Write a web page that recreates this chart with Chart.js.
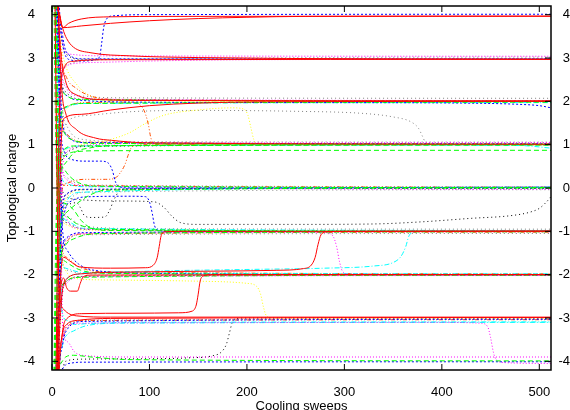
<!DOCTYPE html>
<html>
<head>
<meta charset="utf-8">
<script src="https://cdn.jsdelivr.net/npm/chart.js@4.4.0/dist/chart.umd.min.js"></script>
<style>
  html, body { margin: 0; padding: 0; background: #fff; }
</style>
</head>
<body>
<canvas id="grafico" width="570" height="410"></canvas>
<script>
// Eixos
const sweepTicks = [0, 100, 200, 300, 400, 500];
const chargeTicks = [-4, -3, -2, -1, 0, 1, 2, 3, 4];

// Curvas de resfriamento: pares [sweep, carga]
const curvasVermelhas = [
  [[0,12],[5,4.6],[8,4.0],[11,3.7],[17,3.8],[30,3.9],[60,3.95],[120,3.96],[512,3.965]],
  [[0,12],[5,4.6],[8,3.95],[11,3.7],[30,3.74],[60,3.8],[100,3.86],[150,3.91],[200,3.94],[260,3.96],[512,3.965]],
  [[0,12],[5,4.6],[8,3.95],[11,3.68],[15,3.45],[22,3.25],[40,3.12],[80,3.05],[150,3.01],[512,2.97]],
  [[0,-12],[4,-4.5],[8,2.0],[12,2.75],[20,2.92],[60,2.96],[512,2.97]],
  [[0,12],[6,4.5],[10,2.9],[13,2.55],[16,2.33],[25,2.15],[49,2.04],[100,2.02],[512,2.01]],
  [[0,-12],[5,-4.5],[9,0.8],[13,1.62],[30,1.7],[60,1.8],[100,1.9],[150,1.96],[220,1.99],[512,2.0]],
  [[0,12],[6,4.5],[10,2.3],[14,1.73],[25,1.35],[45,1.15],[61,1.1],[100,1.04],[512,1.01]],
  [[0,-12],[5,-4.5],[9,-2.0],[12,-1.6],[18,-1.68],[28,-1.82],[60,-1.85],[96,-1.84],[104,-1.78],[108,-1.6],[110,-1.35],[112,-1.1],[116,-1.01],[140,-1.0],[512,-1.0]],
  [[0,-12],[6,-4.5],[10,-2.5],[15,-2.1],[30,-1.98],[80,-1.94],[160,-1.92],[230,-1.9],[258,-1.86],[266,-1.78],[270,-1.6],[273,-1.3],[276,-1.08],[282,-1.01],[300,-1.0],[512,-0.99]],
  [[0,-12],[7,-4.5],[11,-3.3],[15,-3.02],[30,-2.9],[80,-2.89],[130,-2.88],[144,-2.84],[148,-2.7],[150,-2.45],[152,-2.15],[155,-2.03],[165,-2.0],[512,-2.0]],
  [[0,-12],[5,-4.5],[9,-2.3],[12,-2.08],[15,-2.3],[19,-2.38],[26,-2.38],[29,-2.2],[32,-2.05],[40,-2.01],[512,-2.0]],
  [[0,12],[3,4.5],[7,-2.2],[12,-2.8],[25,-2.95],[60,-2.98],[512,-2.98]],
  [[0,-12],[6,-4.5],[10,-3.45],[15,-3.15],[28,-3.05],[60,-3.01],[512,-2.99]]
];

const curvasVerdes = [
  [[0,-12],[3,-4.5],[7,0.3],[12,0.72],[22,0.83],[50,0.86],[512,0.87]],
  [[0,-12],[4,-4.5],[8,0.1],[13,0.55],[22,0.8],[40,0.93],[70,0.98],[512,1.0]],
  [[0,12],[3,4.5],[7,1.8],[12,1.3],[22,1.1],[45,1.03],[512,1.01]],
  [[0,-12],[2,-4.5],[6,0.3],[11,0.85],[22,0.97],[512,0.99]],
  [[0,12],[4,4.5],[8,2.6],[14,2.15],[30,2.04],[512,2.0]],
  [[0,-12],[3,-4.5],[7,1.2],[13,1.85],[30,1.95],[512,1.98]],
  [[0,-12],[4,-4.5],[8,-1.0],[14,-0.58],[26,-0.35],[40,-0.15],[55,-0.05],[512,0.0]],
  [[0,12],[3,4.5],[7,1.0],[13,0.42],[25,0.15],[50,0.04],[512,0.01]],
  [[0,12],[2,4.5],[6,-0.2],[12,-0.6],[25,-0.82],[50,-0.95],[512,-1.0]],
  [[0,12],[3,4.5],[7,-0.1],[13,-0.35],[22,-0.5],[30,-0.75],[40,-0.92],[60,-0.98],[512,-1.0]],
  [[0,-12],[3,-4.5],[7,-1.9],[13,-1.35],[25,-1.15],[50,-1.05],[512,-1.01]],
  [[0,-12],[2,-4.5],[6,-2.6],[12,-2.2],[30,-2.06],[512,-2.01]],
  [[0,12],[4,4.5],[8,-1.2],[14,-1.7],[30,-1.9],[60,-1.97],[512,-2.0]],
  [[0,-12],[5,-4.5],[9,-4.05],[14,-3.9],[22,-3.86],[40,-3.9],[80,-3.96],[512,-3.99]]
];

const curvasAzuis = [
  [[0,12],[5,4.6],[9,3.6],[13,3.1],[20,2.95],[30,2.93],[45,2.96],[49,3.05],[51,3.35],[53,3.7],[56,3.9],[62,3.97],[100,4.0],[512,4.01]],
  [[0,12],[4,4.5],[9,2.5],[16,2.12],[32,2.02],[100,1.98],[300,1.97],[420,1.96],[480,1.93],[500,1.9],[512,1.85]],
  [[0,12],[5,4.5],[9,1.4],[13,0.82],[20,0.66],[35,0.62],[50,0.62],[58,0.57],[62,0.4],[65,0.15],[68,0.04],[80,0.0],[512,0.02]],
  [[0,-12],[5,-4.5],[9,-1.3],[13,-0.55],[20,-0.3],[40,-0.2],[80,-0.19],[96,-0.2],[100,-0.32],[103,-0.6],[105,-0.85],[108,-0.97],[120,-1.0],[512,-1.0]],
  [[0,-12],[6,-4.5],[10,-0.6],[16,-0.12],[32,-0.03],[512,0.0]],
  [[0,12],[6,4.5],[10,-0.7],[16,-1.45],[27,-1.75],[50,-1.92],[100,-1.97],[512,-2.01]],
  [[0,-12],[6,-4.6],[10,-4.2],[14,-4.08],[20,-4.04],[30,-4.02],[512,-4.01]],
  [[0,-12],[7,-4.5],[11,-3.6],[16,-3.25],[32,-3.08],[512,-3.03]],
  [[0,12],[6,4.5],[10,1.7],[16,1.2],[32,1.05],[512,1.02]],
  [[0,12],[7,4.5],[11,3.5],[16,3.1],[32,2.98],[512,2.98]],
  [[0,-12],[5,-4.5],[9,-1.7],[15,-1.15],[32,-1.03],[512,-1.0]]
];

const curvasMagenta = [
  [[0,12],[6,4.5],[10,3.5],[14,3.15],[22,3.08],[50,3.05],[512,3.04]],
  [[0,-12],[5,-4.5],[9,2.3],[14,2.8],[22,2.87],[50,2.9],[100,2.93],[200,2.96],[512,2.97]],
  [[0,12],[5,4.5],[9,2.8],[15,2.3],[27,2.12],[50,2.05],[512,2.02]],
  [[0,-12],[6,-4.5],[10,0.3],[16,0.85],[32,0.98],[100,1.03],[512,1.05]],
  [[0,12],[5,4.5],[9,0.7],[15,0.2],[32,0.05],[512,-0.03]],
  [[0,12],[6,4.5],[10,0.1],[15,-0.7],[25,-0.92],[80,-0.98],[200,-1.0],[280,-1.03],[288,-1.1],[292,-1.35],[295,-1.7],[298,-1.92],[305,-1.99],[512,-2.0]],
  [[0,-12],[6,-4.5],[10,-3.6],[15,-3.2],[30,-3.12],[100,-3.11],[400,-3.1],[440,-3.12],[447,-3.2],[450,-3.45],[453,-3.8],[456,-3.97],[465,-4.03],[512,-4.05]],
  [[0,12],[7,4.5],[11,-3.2],[16,-3.55],[23,-3.78],[35,-3.87],[80,-3.9],[512,-3.9]],
  [[0,-12],[4,-4.5],[8,-1.8],[14,-1.2],[32,-1.05],[512,-1.01]],
  [[0,-12],[5,-4.5],[9,-2.7],[15,-2.2],[32,-2.05],[512,-2.02]]
];

const curvasCiano = [
  [[0,-12],[5,-4.5],[9,-2.6],[14,-2.12],[30,-1.98],[100,-1.92],[200,-1.88],[280,-1.85],[330,-1.8],[350,-1.72],[358,-1.58],[363,-1.35],[366,-1.12],[370,-1.02],[380,-1.0],[512,-1.0]],
  [[0,-12],[4,-4.5],[8,0.4],[14,0.9],[32,0.97],[300,0.99],[480,0.98],[512,0.92]],
  [[0,12],[4,4.5],[8,0.5],[14,0.12],[32,0.03],[512,0.01]],
  [[0,12],[6,4.5],[10,-2.8],[15,-3.05],[23,-3.15],[35,-3.13],[100,-3.1],[512,-3.09]],
  [[0,-12],[7,-4.5],[11,-3.6],[15,-3.4],[22,-3.3],[35,-3.18],[70,-3.12],[512,-3.1]],
  [[0,-12],[4,-4.5],[8,1.4],[14,1.85],[32,1.95],[512,1.97]],
  [[0,12],[4,4.5],[8,-1.5],[14,-1.85],[32,-1.95],[512,-1.98]],
  [[0,-12],[5,-4.5],[9,-0.9],[15,-0.3],[27,-0.1],[512,0.02]],
  [[0,12],[5,4.5],[9,-0.4],[15,-0.75],[32,-0.93],[512,-0.98]]
];

const curvasAmarelas = [
  [[0,12],[6,4.5],[9,3.4],[13,2.9],[25,2.4],[40,2.12],[70,2.02],[512,2.0]],
  [[0,-12],[5,-4.5],[9,0.6],[15,0.9],[30,1.0],[45,1.05],[60,1.12],[80,1.28],[95,1.48],[115,1.68],[150,1.8],[185,1.85],[197,1.82],[201,1.68],[204,1.4],[207,1.12],[210,1.02],[220,1.0],[512,1.0]],
  [[0,12],[5,4.5],[9,-1.2],[14,-1.9],[22,-2.08],[50,-2.12],[150,-2.15],[200,-2.2],[210,-2.27],[214,-2.45],[217,-2.75],[220,-2.95],[226,-3.0],[512,-3.0]],
  [[0,-12],[6,-4.5],[10,-0.9],[16,-0.2],[32,-0.04],[512,0.0]],
  [[0,12],[5,4.5],[9,-0.5],[15,-0.85],[32,-0.97],[512,-1.0]],
  [[0,-12],[4,-4.5],[8,1.1],[14,1.8],[32,1.96],[512,2.01]]
];

const curvasPretas = [
  [[0,12],[5,4.6],[8,3.9],[11,3.3],[17,3.05],[30,2.97],[512,2.99]],
  [[0,12],[6,4.5],[10,0.1],[14,-0.2],[30,-0.27],[70,-0.3],[105,-0.32],[115,-0.45],[123,-0.65],[132,-0.8],[150,-0.84],[250,-0.84],[330,-0.83],[380,-0.78],[430,-0.7],[470,-0.64],[490,-0.56],[500,-0.47],[507,-0.33],[512,-0.2]],
  [[0,-12],[6,-4.5],[10,-0.7],[15,-0.4],[25,-0.34],[29,-0.45],[33,-0.63],[40,-0.68],[54,-0.67],[59,-0.52],[63,-0.3],[68,-0.1],[76,-0.02],[512,0.0]],
  [[0,12],[4,4.5],[8,-0.4],[15,-0.8],[32,-0.95],[512,-1.0]],
  [[0,-12],[5,-4.5],[9,-0.6],[15,-0.15],[32,-0.04],[512,-0.01]],
  [[0,-12],[6,-4.6],[10,-4.2],[14,-4.0],[30,-3.95],[100,-3.94],[140,-3.92],[165,-3.87],[174,-3.78],[179,-3.6],[182,-3.35],[185,-3.1],[190,-3.01],[200,-3.0],[512,-3.0]],
  [[0,12],[5,4.5],[9,2.6],[15,2.2],[32,2.05],[512,2.01]],
  [[0,-12],[5,-4.5],[9,0.4],[15,0.82],[32,0.96],[512,1.0]],
  [[0,-12],[6,-4.5],[10,-2.6],[15,-2.15],[32,-2.04],[512,-2.0]]
];

const curvasLaranja = [
  [[0,-12],[4,-4.5],[8,1.5],[15,1.88],[30,1.97],[80,1.98],[88,1.95],[93,1.85],[96,1.7],[99,1.45],[101,1.2],[103,1.06],[108,1.01],[120,1.0],[512,1.0]],
  [[0,-12],[6,-4.5],[10,-0.1],[14,0.1],[32,0.2],[55,0.2],[64,0.22],[70,0.35],[75,0.55],[78,0.75],[81,0.92],[86,0.99],[100,1.0],[512,1.0]],
  [[0,12],[6,4.5],[10,3.0],[15,2.55],[25,2.3],[40,2.12],[70,2.04],[512,2.01]],
  [[0,-12],[5,-4.5],[9,-1.8],[15,-1.25],[32,-1.06],[512,-1.02]],
  [[0,-12],[6,-4.5],[10,-3.6],[16,-3.2],[32,-3.06],[512,-3.04]],
  [[0,12],[3,4.5],[7,0.3],[14,0.06],[512,0.02]],
  [[0,12],[5,4.5],[9,-1.2],[15,-1.6],[26,-1.8],[50,-1.93],[512,-1.98]],
  [[0,12],[5,4.5],[9,1.7],[15,1.25],[32,1.06],[512,1.02]]
];

const curvasCinza = [
  [[0,-12],[5,-4.5],[9,0.9],[13,1.4],[18,1.58],[40,1.68],[80,1.76],[150,1.79],[250,1.77],[320,1.72],[350,1.64],[368,1.53],[376,1.38],[380,1.2],[383,1.06],[388,1.01],[400,1.0],[512,1.0]],
  [[0,-12],[6,-4.5],[10,2.5],[16,2.85],[32,2.95],[512,3.02]],
  [[0,12],[5,4.5],[9,2.8],[15,2.35],[32,2.12],[80,2.08],[512,2.07]],
  [[0,12],[6,4.5],[10,2],[16,1.4],[32,1.12],[80,1.07],[512,1.06]],
  [[0,-12],[4,-4.5],[8,-1],[15,-0.35],[32,-0.1],[512,-0.04]],
  [[0,12],[4,4.5],[8,-0.3],[15,-0.65],[32,-0.88],[100,-0.94],[512,-0.95]],
  [[0,-12],[5,-4.5],[9,-1.7],[15,-1.2],[32,-1.08],[512,-1.05]],
  [[0,12],[6,4.5],[10,-1.6],[16,-1.9],[32,-1.98],[512,-2.0]],
  [[0,-12],[7,-4.5],[11,-3.5],[16,-3.15],[32,-3.05],[512,-3.02]],
  [[0,12],[5,4.5],[9,0.7],[15,0.25],[32,0.07],[512,0.03]]
];

// Estilos de linha (tipo gnuplot), o primeiro grupo fica por cima
const grupos = [
  { curvas: curvasVermelhas, cor: '#ff0000', traco: [] },
  { curvas: curvasVerdes, cor: '#00ff00', traco: [5, 3] },
  { curvas: curvasAzuis, cor: '#0000ff', traco: [2, 2] },
  { curvas: curvasMagenta, cor: '#ff00ff', traco: [1, 2] },
  { curvas: curvasCiano, cor: '#00ffff', traco: [5, 2, 1, 2] },
  { curvas: curvasLaranja, cor: '#ff4d00', traco: [4, 2, 1, 2, 1, 2] },
  { curvas: curvasPretas, cor: '#000000', traco: [1, 3] },
  { curvas: curvasAmarelas, cor: '#ffff00', traco: [1, 2] },
  { curvas: curvasCinza, cor: '#808080', traco: [1, 3] }
];

const datasets = [];
grupos.forEach(g => {
  g.curvas.forEach(c => {
    datasets.push({
      data: c.map(p => ({ x: p[0], y: p[1] })),
      borderColor: g.cor,
      borderDash: g.traco,
      borderWidth: 1,
      pointRadius: 0,
      fill: false,
      cubicInterpolationMode: 'monotone'
    });
  });
});

// Moldura e marcas dos eixos para dentro
const moldura = {
  id: 'moldura',
  afterDatasetsDraw(chart) {
    const { ctx, chartArea: a, scales } = chart;
    ctx.save();
    ctx.strokeStyle = '#000';
    ctx.lineWidth = 1;
    ctx.beginPath();
    sweepTicks.forEach(v => {
      const x = scales.x.getPixelForValue(v);
      ctx.moveTo(x, a.bottom); ctx.lineTo(x, a.bottom - 6);
      ctx.moveTo(x, a.top); ctx.lineTo(x, a.top + 6);
    });
    chargeTicks.forEach(v => {
      const y = scales.y.getPixelForValue(v);
      ctx.moveTo(a.left, y); ctx.lineTo(a.left + 6, y);
      ctx.moveTo(a.right, y); ctx.lineTo(a.right - 6, y);
    });
    ctx.stroke();
    ctx.lineWidth = 1.5;
    ctx.strokeRect(a.left, a.top, a.right - a.left, a.bottom - a.top);
    ctx.restore();
  }
};

// Tamanhos fixos dos eixos (sem folga extra dos rótulos)
function fixarEixo(s, largura, altura) {
  if (largura) s.width = largura;
  if (altura) s.height = altura;
  s.paddingTop = 0; s.paddingBottom = 0;
  s.paddingLeft = 0; s.paddingRight = 0;
}

const fonte = { family: 'Liberation Sans', size: 13 };

new Chart(document.getElementById('grafico').getContext('2d'), {
  type: 'line',
  data: { datasets: datasets },
  options: {
    responsive: false,
    animation: false,
    parsing: false,
    layout: { padding: { top: 6, left: 0, right: 0, bottom: 0 } },
    plugins: { legend: { display: false }, tooltip: { enabled: false } },
    scales: {
      x: {
        type: 'linear', min: 0, max: 512, position: 'bottom',
        afterBuildTicks: s => { s.ticks = sweepTicks.map(v => ({ value: v })); },
        afterFit: s => fixarEixo(s, 0, 40),
        grid: { display: false }, border: { display: false },
        ticks: { padding: 7, color: '#000', font: fonte, maxRotation: 0 },
        title: { display: true, text: 'Cooling sweeps', color: '#000', font: fonte, padding: { top: 0, bottom: -4 } }
      },
      y: {
        type: 'linear', min: -4.2, max: 4.2, position: 'left',
        afterBuildTicks: s => { s.ticks = chargeTicks.map(v => ({ value: v })); },
        afterFit: s => fixarEixo(s, 52, 0),
        grid: { display: false }, border: { display: false },
        ticks: { padding: 9, color: '#000', font: fonte },
        title: { display: true, text: 'Topological charge', color: '#000', font: fonte, padding: { top: 5, bottom: 0 } }
      },
      y2: {
        type: 'linear', min: -4.2, max: 4.2, position: 'right',
        afterBuildTicks: s => { s.ticks = chargeTicks.map(v => ({ value: v })); },
        afterFit: s => fixarEixo(s, 19, 0),
        grid: { display: false }, border: { display: false },
        ticks: { padding: 6, color: '#000', font: fonte, crossAlign: 'far' }
      }
    }
  },
  plugins: [moldura]
});
</script>
</body>
</html>
